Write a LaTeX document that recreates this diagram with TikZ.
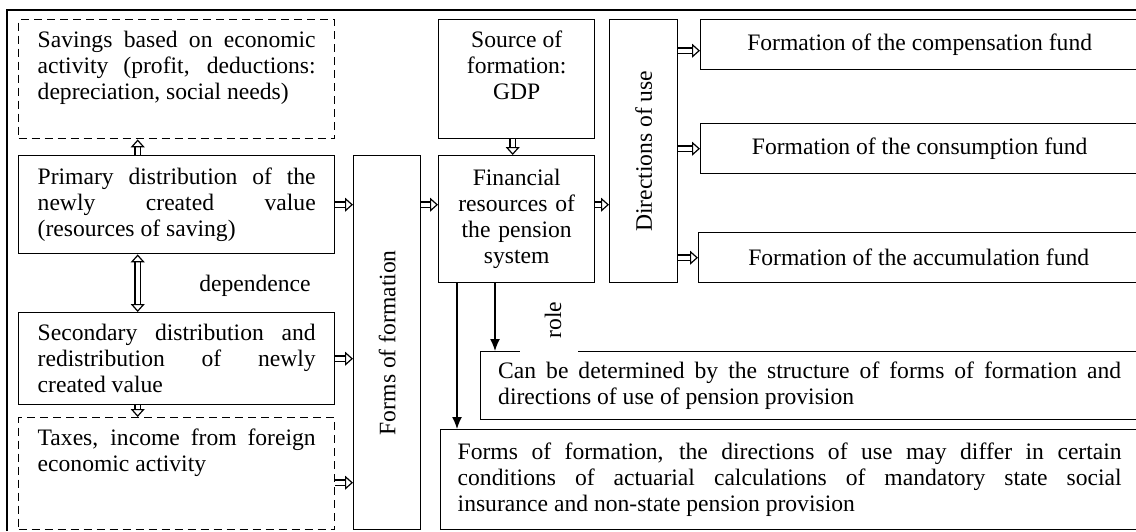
\documentclass[tikz,border=0pt]{standalone}
\usepackage{fontspec}
\setmainfont{Liberation Serif}
\usetikzlibrary{arrows.meta}
\hyphenpenalty=10000
\exhyphenpenalty=10000
\tolerance=10000

\begin{document}
\begin{tikzpicture}[x=0.5pt,y=-0.5pt,
  font=\fontsize{11.8}{13}\selectfont,
  box/.style={draw,line width=0.7pt,anchor=north west},
  dashbox/.style={box,dash pattern=on 4pt off 2.5pt,inner ysep=0pt,inner xsep=9.5pt},
  hollow/.style={double,double distance=2.2pt,line width=0.6pt,-{Triangle[open,length=4pt,width=7pt]}},
  hollowboth/.style={double,double distance=2.2pt,line width=0.6pt,{Triangle[open,length=4pt,width=7pt]}-{Triangle[open,length=4pt,width=7pt]}},
  thinarrow/.style={line width=0.7pt,-{Latex[length=6pt,width=5pt]}}]

\clip (0,0) rectangle (1136,531);
\draw[line width=0.6pt] (7,531) -- (7,10) -- (1136,10);

% left column
\node[dashbox] (savings) at (18,19) {\parbox[c][59.5pt][t]{139pt}{\vspace*{5.5pt}Savings based on economic\linebreak activity (profit, deductions:\linebreak depreciation, social needs)}};
\node[box,text width=139pt,align=justify,inner xsep=9.5pt,minimum height=49pt] (primary) at (18,155) {Primary distribution of the\linebreak newly created value\linebreak (resources of saving)};
\node[box,text width=139pt,align=justify,inner xsep=9.5pt,minimum height=46pt] (secondary) at (18,312) {Secondary distribution and\linebreak redistribution of newly\linebreak created value};
\node[dashbox] (taxes) at (18,417) {\parbox[c][56pt][t]{139pt}{\vspace*{5.5pt}Taxes, income from foreign\linebreak economic activity}};
\node (dep) at (255,286) {dependence};

\node[box,minimum width=33.5pt,minimum height=187pt] (forms) at (353,155) {\rotatebox{90}{Forms of formation}};

% middle
\node[box,inner sep=0pt] (source) at (438,19) {\parbox[c][59.5pt][t]{78pt}{\centering\vspace*{5.5pt}Source of\\ formation:\\ GDP}};
\node[box,minimum width=78pt,minimum height=63.5pt,text width=70pt,align=center] (financial) at (438,155) {Financial resources of the pension system};
\node[box,minimum width=34pt,minimum height=131.5pt] (directions) at (609,19) {\rotatebox{90}{Directions of use}};

% funds
\node[box,minimum width=219pt,minimum height=25pt] (compfund) at (700,19) {Formation of the compensation fund};
\node[box,minimum width=219pt,minimum height=25pt] (consfund) at (700,123) {Formation of the consumption fund};
\node[box,minimum width=220pt,minimum height=25pt] (accfund) at (698,232) {Formation of the accumulation fund};

% lower right
\node[box,minimum width=329pt,minimum height=34pt,text width=311.5pt,align=justify] (determined) at (480,351) {Can be determined by the structure of forms of formation and\linebreak directions of use of pension provision};
\node[box,minimum width=349pt,minimum height=50pt,text width=332pt,align=justify] (bottomtext) at (440,429) {Forms of formation, the directions of use may differ in certain\linebreak conditions of actuarial calculations of mandatory state social\linebreak insurance and non-state pension provision};
\draw[white,line width=2pt] (520,351) -- (578,351);
\node[rotate=90] (role) at (553,320) {role};

% connectors
\draw[hollow] ([xshift=-19.5pt]primary.north) -- ([xshift=-19.5pt]savings.south);
\draw[hollowboth] ([xshift=-19.5pt]primary.south) -- ([xshift=-19.5pt]secondary.north);
\draw[hollow] ([xshift=-19.5pt]secondary.south) -- ([xshift=-19.5pt]taxes.north);
\draw[hollow] (primary.east) -- (primary.east -| forms.west);
\draw[hollow] (secondary.east) -- (secondary.east -| forms.west);
\draw[hollow] ([yshift=-4.5pt]taxes.east) -- ([yshift=-4.5pt]taxes.east -| forms.west);
\draw[hollow] (primary.east -| forms.east) -- (primary.east -| financial.west);
\draw[hollow] ([xshift=-2pt]source.south) -- ([xshift=-2pt]financial.north);
\draw[hollow] (primary.east -| financial.east) -- (primary.east -| directions.west);
\draw[hollow] ([yshift=-3pt]compfund.west -| directions.east) -- ([yshift=-3pt]compfund.west);
\draw[hollow] (consfund.west -| directions.east) -- (consfund.west);
\draw[hollow] (accfund.west -| directions.east) -- (accfund.west);
\draw[thinarrow] ([xshift=9.5pt]financial.south west) -- ([xshift=9.5pt]financial.south west |- bottomtext.north);
\draw[thinarrow] ([xshift=28.5pt]financial.south west) -- ([xshift=28.5pt]financial.south west |- determined.north);
\end{tikzpicture}
\end{document}
